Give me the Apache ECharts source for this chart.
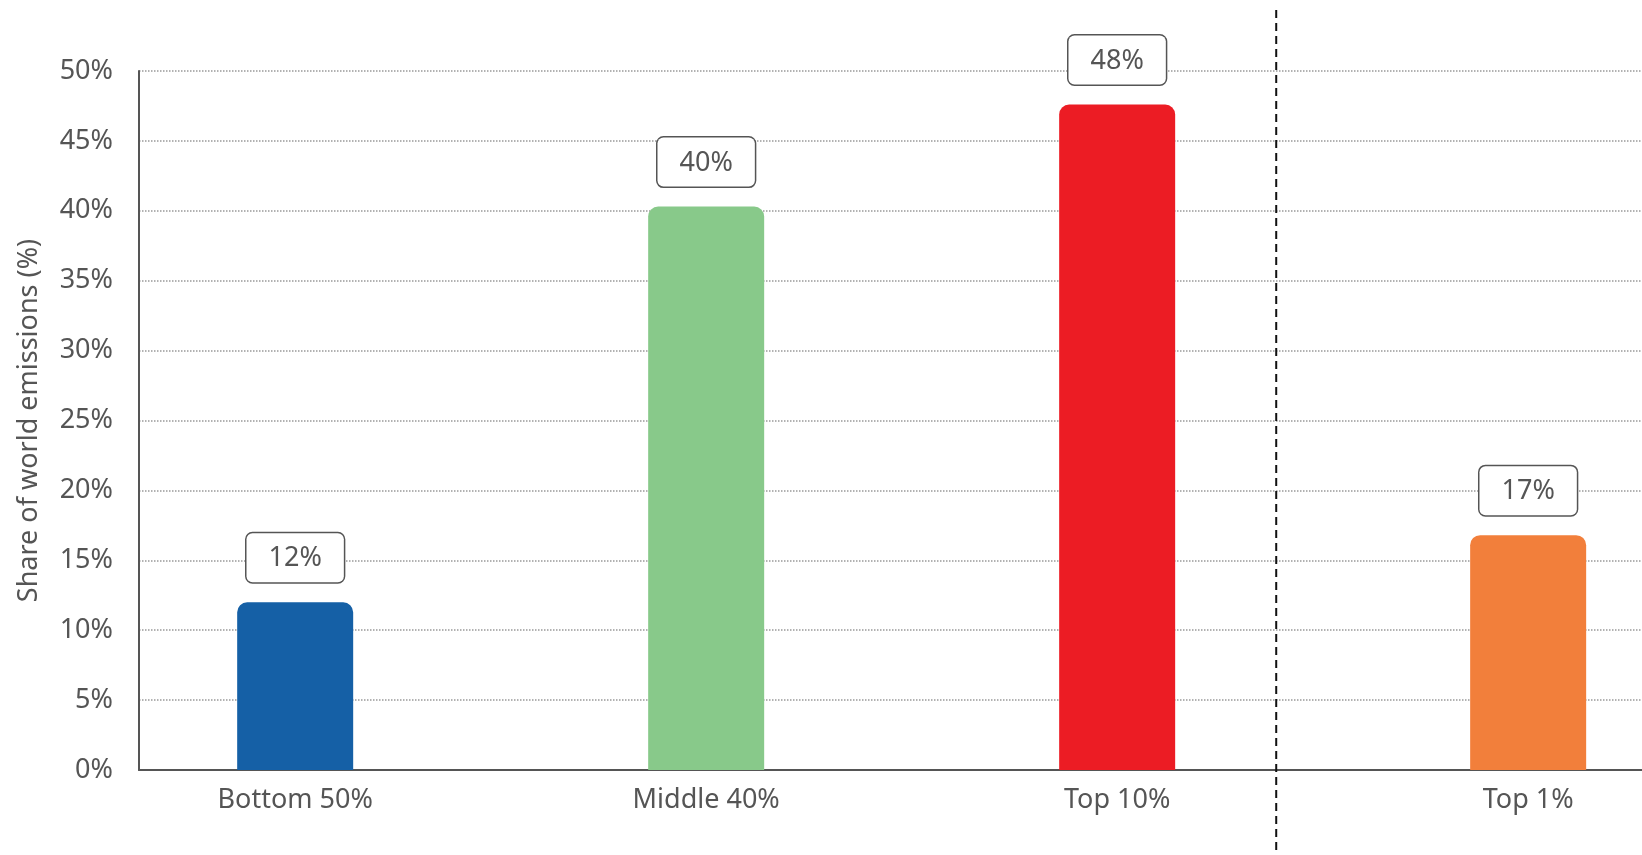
<!DOCTYPE html>
<html>
<head>
<meta charset="utf-8">
<script src="https://cdn.jsdelivr.net/npm/echarts@6/dist/echarts.min.js"></script>
<style>
html,body{margin:0;padding:0;background:#fff;}
#chart{width:1642px;height:855px;}
</style>
</head>
<body>
<div id="chart"></div>
<script>
const categories = ['Bottom 50%', 'Middle 40%', 'Top 10%', 'Top 1%'];
const values = [12.0, 40.3, 47.6, 16.8];
const labels = ['12%', '40%', '48%', '17%'];
const colors = ['#1560a6', '#88c98a', '#ec1c24', '#f27f3b'];
const yTicks = [0, 5, 10, 15, 20, 25, 30, 35, 40, 45, 50];
const dividerX = 2.387; // dashed separator between Top 10% and Top 1%

const FONT = '"Noto Sans", sans-serif';
const chart = echarts.init(document.getElementById('chart'));

chart.setOption({
  animation: false,
  grid: { left: 139, right: 0, top: 71, bottom: 85 },
  xAxis: {
    type: 'value',
    min: -0.38,
    max: 3.277,
    splitLine: { show: false },
    axisTick: { show: false },
    axisLine: { show: true, onZero: false, lineStyle: { color: '#555', width: 2 } },
    axisLabel: {
      customValues: categories.map((c, i) => i),
      formatter: v => categories[Math.round(v)] || '',
      color: '#555',
      fontSize: 27,
      fontFamily: FONT,
      margin: 17
    }
  },
  yAxis: {
    type: 'value',
    min: yTicks[0],
    max: yTicks[yTicks.length - 1],
    interval: 5,
    name: 'Share of world emissions (%)',
    nameLocation: 'middle',
    nameGap: 96,
    nameRotate: 90,
    nameTextStyle: { color: '#555', fontSize: 27, fontFamily: FONT },
    axisLine: { show: true, onZero: false, lineStyle: { color: '#555', width: 2 } },
    axisTick: { show: false },
    axisLabel: {
      formatter: '{value}%',
      color: '#555',
      fontSize: 27,
      fontFamily: FONT,
      margin: 26
    },
    splitLine: { show: true, lineStyle: { color: '#999', type: 'dotted', width: 1.5 } }
  },
  series: [{
    type: 'bar',
    barWidth: 116,
    data: values.map((v, i) => ({
      value: [i, v],
      itemStyle: { color: colors[i], borderRadius: [10, 10, 0, 0] },
      label: { formatter: labels[i] }
    })),
    label: {
      show: true,
      position: 'top',
      distance: 20,
      color: '#555',
      fontSize: 27,
      fontFamily: FONT,
      backgroundColor: '#fff',
      borderColor: '#555',
      borderWidth: 1.5,
      borderRadius: 6,
      padding: [12, 22, 10, 22]
    }
  }]
});

const px = chart.convertToPixel({ xAxisIndex: 0 }, dividerX);
chart.setOption({
  graphic: [{
    type: 'line',
    shape: { x1: px, y1: 10, x2: px, y2: 855 },
    style: { stroke: '#111', lineWidth: 2, lineDash: [8, 5] },
    z: 10
  }]
});
</script>
</body>
</html>
